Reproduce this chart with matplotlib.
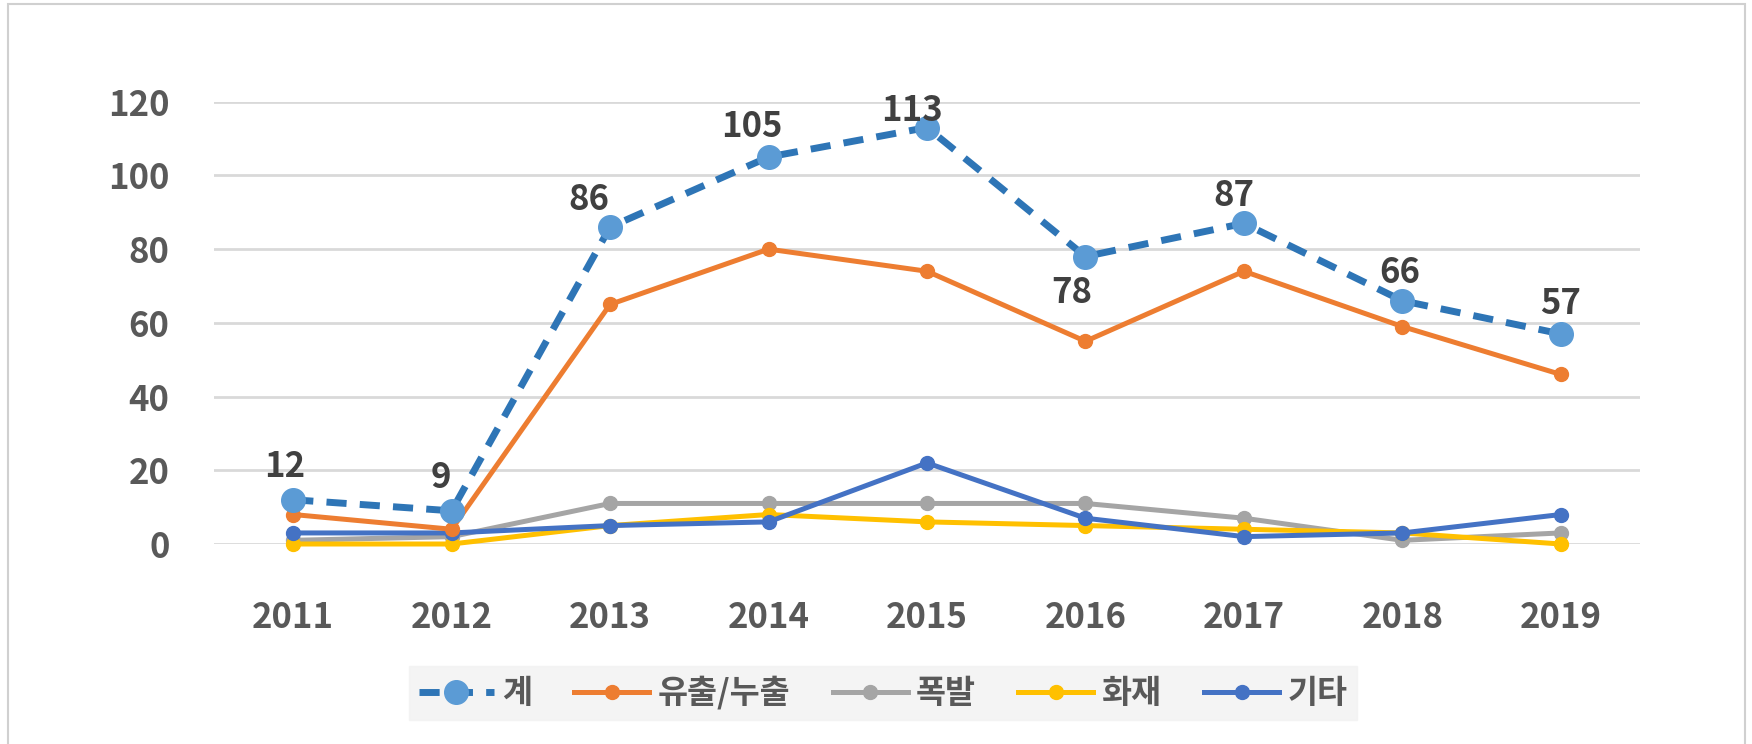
import matplotlib
matplotlib.use('Agg')
import matplotlib.pyplot as plt
from matplotlib.patches import Rectangle

plt.rcParams['font.family'] = ['Noto Sans CJK KR', 'DejaVu Sans']

# ---- data ----
years = ['2011', '2012', '2013', '2014', '2015', '2016', '2017', '2018', '2019']
total = [12, 9, 86, 105, 113, 78, 87, 66, 57]
leak = [8, 4, 65, 80, 74, 55, 74, 59, 46]
explosion = [1, 2, 11, 11, 11, 11, 7, 1, 3]
fire = [0, 0, 5, 8, 6, 5, 4, 3, 0]
other = [3, 3, 5, 6, 22, 7, 2, 3, 8]
names = ['계', '유출/누출', '폭발', '화재', '기타']

# label offsets (points) for the total series
lab_dx = [-6, -8, -15, -12, -11, -10, -7, -2, 0]
lab_dy = [24, 24, 20, 22, 12, -26, 20, 20, 22]

W, H = 1752, 744
fig = plt.figure(figsize=(W / 100, H / 100), dpi=100)
ax = fig.add_axes([214 / W, 1 - 544 / H, (1640 - 214) / W, (544 - 101.7) / H])

x = list(range(len(years)))
ax.plot(x, explosion, color='#A5A5A5', lw=3.6, marker='o', ms=10, label=names[2], zorder=3)
ax.plot(x, fire, color='#FFC000', lw=3.6, marker='o', ms=10, label=names[3], zorder=3)
ax.plot(x, other, color='#4472C4', lw=3.6, marker='o', ms=10, label=names[4], zorder=4)
ax.plot(x, leak, color='#ED7D31', lw=3.6, marker='o', ms=10, label=names[1], zorder=4)
ax.plot(x, total, color='#2E75B6', lw=5, ls=(0, (2.9, 1.9)), marker='o', ms=17,
        mfc='#5B9BD5', mec='#5B9BD5', label=names[0], zorder=5)

for i, v in enumerate(total):
    ax.annotate(str(v), (x[i], v), xytext=(lab_dx[i], lab_dy[i]), textcoords='offset points',
                ha='center', va='center', fontsize=25, fontweight='bold', color='#404040',
                zorder=6)

ax.set_xlim(-0.5, len(years) - 0.5)
ax.set_ylim(0, 120)
ax.set_yticks(range(0, 121, 20))
ax.set_xticks(x)
ax.set_xticklabels(years)
ax.tick_params(axis='both', length=0, labelsize=25, labelcolor='#595959')
ax.tick_params(axis='x', pad=40)
ax.tick_params(axis='y', pad=32)
for lbl in ax.get_xticklabels() + ax.get_yticklabels():
    lbl.set_fontweight('bold')
ax.grid(axis='y', color='#D9D9D9', lw=2)
ax.set_axisbelow(True)
for s in ax.spines.values():
    s.set_visible(False)
for ln in ax.lines:
    ln.set_clip_on(False)

handles, labels = ax.get_legend_handles_labels()
order = [4, 3, 0, 1, 2]
leg = fig.legend([handles[i] for i in order], [labels[i] for i in order],
                 loc='center', bbox_to_anchor=(883 / W, 51 / H), ncol=5,
                 frameon=True, fancybox=False, fontsize=23.5, handlelength=2.3,
                 columnspacing=1.3, handletextpad=0.25, borderpad=0.3,
                 borderaxespad=0)
leg.get_frame().set_facecolor('#F2F2F2')
leg.get_frame().set_edgecolor('#F2F2F2')
for t in leg.get_texts():
    t.set_color('#595959')
    t.set_fontweight('bold')

fig.patches.append(Rectangle((8 / W, -0.1), (1745 - 8) / W, 1 - 4 / H + 0.1,
                             transform=fig.transFigure, fill=False,
                             edgecolor='#D0D0D0', lw=1.5))

fig.savefig('out.png', dpi=100)
